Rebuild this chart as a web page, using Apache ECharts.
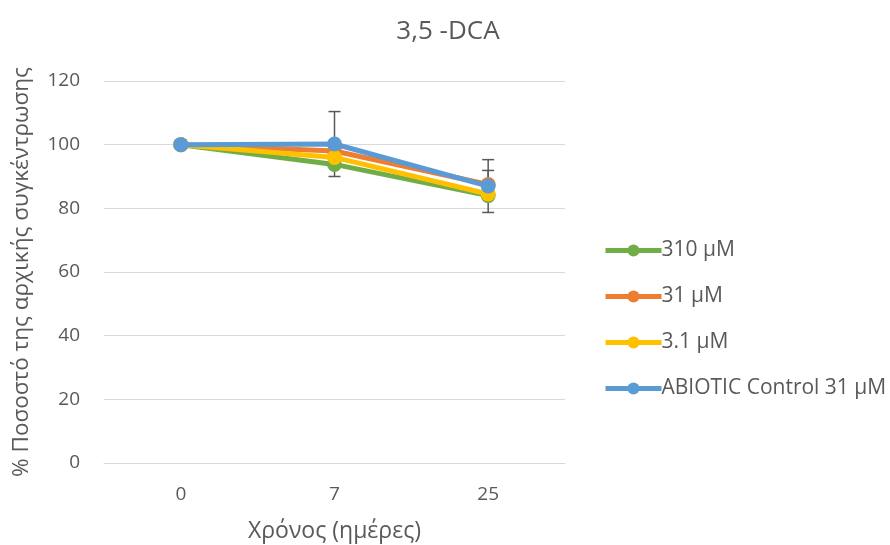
<!DOCTYPE html>
<html>
<head>
<meta charset="utf-8">
<script src="https://cdn.jsdelivr.net/npm/echarts@6/dist/echarts.min.js"></script>
<style>
	html, body { margin: 0; padding: 0; background: #fff; }
	#chart { width: 890px; height: 545px; }
</style>
</head>
<body>
<div id="chart"></div>
<script>
var days = ['0', '7', '25'];
var names = ['310 μM', '31 μM', '3.1 μM', 'ABIOTIC Control 31 μM'];
var colors = ['#70ad47', '#ed7d31', '#ffc000', '#5b9bd5'];

var s310 = [100, 93.8, 84];
var s31 = [100, 98, 87.5];
var s3_1 = [100, 96, 84.5];
var sAbiotic = [100, 100.2, 87];
var seriesValues = [s310, s31, s3_1, sAbiotic];

// +/- error per day
var errAbiotic = [0, 10.2, 8.3];
var err31 = [0, 0, 4.4];

var yTicks = [0, 20, 40, 60, 80, 100, 120];

var txt = '#595959';
var font = '"Open Sans", "Noto Sans", sans-serif';

function errData(vals, errs) {
	var out = [];
	for (var i = 0; i < vals.length; i++) {
		if (errs[i] > 0) out.push([i, vals[i] - errs[i], vals[i] + errs[i]]);
	}
	return out;
}

function renderErr(params, api) {
	var x = api.value(0);
	var lo = api.coord([x, api.value(1)]);
	var hi = api.coord([x, api.value(2)]);
	var st = { stroke: '#595959', lineWidth: 1.5 };
	var c = 6;
	return {
		type: 'group',
		children: [
			{ type: 'line', shape: { x1: lo[0], y1: lo[1], x2: hi[0], y2: hi[1] }, style: st },
			{ type: 'line', shape: { x1: lo[0] - c, y1: lo[1], x2: lo[0] + c, y2: lo[1] }, style: st },
			{ type: 'line', shape: { x1: hi[0] - c, y1: hi[1], x2: hi[0] + c, y2: hi[1] }, style: st }
		]
	};
}

var series = [];
series.push({
	type: 'custom', renderItem: renderErr, z: 1, silent: true,
	encode: { x: 0, y: [1, 2] }, data: errData(sAbiotic, errAbiotic)
});
series.push({
	type: 'custom', renderItem: renderErr, z: 1, silent: true,
	encode: { x: 0, y: [1, 2] }, data: errData(s31, err31)
});
for (var i = 0; i < names.length; i++) {
	series.push({
		name: names[i],
		type: 'line',
		z: 2 + i,
		data: seriesValues[i],
		symbol: 'circle',
		symbolSize: 15,
		lineStyle: { width: 5, color: colors[i] },
		itemStyle: { color: colors[i] }
	});
}

var chart = echarts.init(document.getElementById('chart'));
chart.setOption({
	animation: false,
	color: colors,
	title: {
		text: '3,5 -DCA',
		left: 443,
		top: 14,
		textAlign: 'center',
		textStyle: { color: txt, fontSize: 26, fontWeight: 'normal', fontFamily: font }
	},
	grid: { left: 104, right: 325, top: 81, bottom: 82, outerBoundsMode: 'none', containLabel: false },
	legend: {
		orient: 'vertical',
		left: 598,
		top: 235,
		itemWidth: 56,
		itemHeight: 15,
		itemGap: 25,
		lineStyle: { width: 5 },
		textStyle: { color: txt, fontSize: 21, fontFamily: font, padding: [0, 0, 0, -5] },
		data: names
	},
	xAxis: {
		type: 'category',
		data: days,
		name: 'Χρόνος (ημέρες)',
		nameLocation: 'middle',
		nameGap: 57,
		nameTextStyle: { color: txt, fontSize: 23, fontFamily: font },
		axisLine: { lineStyle: { color: '#d9d9d9', width: 1 } },
		axisTick: { show: false },
		axisLabel: { color: txt, fontSize: 19, fontFamily: font, margin: 22 }
	},
	yAxis: {
		type: 'value',
		min: yTicks[0],
		max: yTicks[yTicks.length - 1],
		interval: 20,
		name: '% Ποσοστό της αρχικής συγκέντρωσης',
		nameLocation: 'middle',
		nameGap: 71,
		nameTextStyle: { color: txt, fontSize: 22.5, fontFamily: font },
		axisLine: { show: false },
		axisTick: { show: false },
		axisLabel: { color: txt, fontSize: 19, fontFamily: font, margin: 24 },
		splitLine: { lineStyle: { color: '#d9d9d9', width: 1 } }
	},
	series: series
});
</script>
</body>
</html>
